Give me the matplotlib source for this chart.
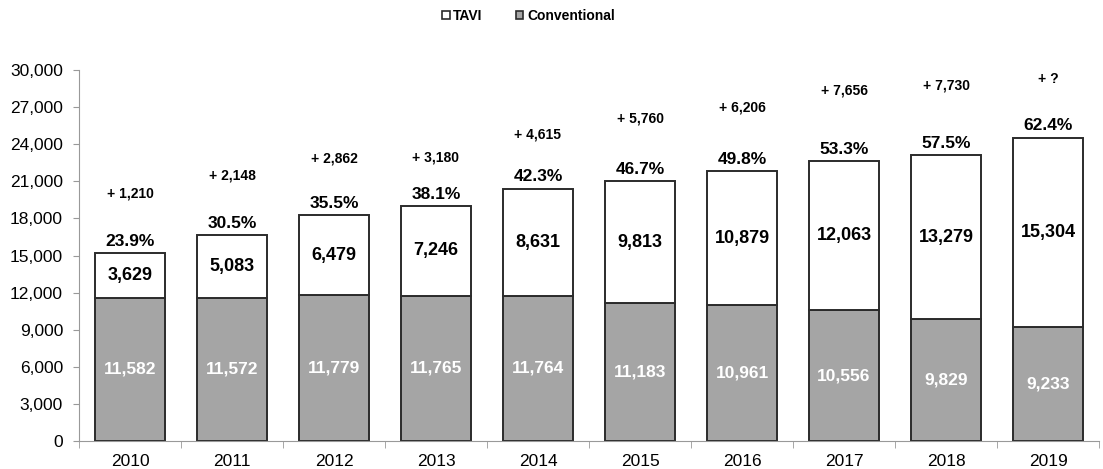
import matplotlib
matplotlib.use("Agg")
import matplotlib.pyplot as plt
import numpy as np
from matplotlib.patches import Patch

plt.rcParams['font.family'] = ['Liberation Sans', 'DejaVu Sans']

years = ['2010', '2011', '2012', '2013', '2014', '2015', '2016', '2017', '2018', '2019']
conventional = [11582, 11572, 11779, 11765, 11764, 11183, 10961, 10556, 9829, 9233]
tavi = [3629, 5083, 6479, 7246, 8631, 9813, 10879, 12063, 13279, 15304]
tavi_share = ['23.9%', '30.5%', '35.5%', '38.1%', '42.3%', '46.7%', '49.8%', '53.3%', '57.5%', '62.4%']
increase = ['+ 1,210', '+ 2,148', '+ 2,862', '+ 3,180', '+ 4,615', '+ 5,760', '+ 6,206', '+ 7,656', '+ 7,730', '+ ?']

# gap above each bar where the "+ n" label sits (layout only)
inc_gap = [4840, 4775, 4620, 3950, 4430, 5120, 5090, 5760, 5600, 4730]

x = np.arange(len(years))
conv = np.array(conventional)
tv = np.array(tavi)
total = conv + tv

fig = plt.figure(figsize=(11.03, 4.69), dpi=100)
ax = fig.add_axes([0.0716, 0.0597, 0.9248, 0.791])

w = 0.68
gray = '#a5a5a5'
ax.bar(x, conv, w, color=gray, edgecolor='#2b2b2b', linewidth=1.4, label='Conventional', zorder=2)
ax.bar(x, tv, w, bottom=conv, color='white', edgecolor='#2b2b2b', linewidth=1.4, label='TAVI', zorder=2)

for i in x:
    ax.text(i, conv[i] / 2, f'{conv[i]:,}', ha='center', va='center', color='white',
            fontsize=12.5, fontweight='bold')
    ax.text(i, conv[i] + tv[i] / 2, f'{tv[i]:,}', ha='center', va='center', color='black',
            fontsize=13, fontweight='bold')
    ax.text(i, total[i] + 350, tavi_share[i], ha='center', va='bottom', color='black',
            fontsize=12.5, fontweight='bold')
    ax.text(i, total[i] + inc_gap[i], increase[i], ha='center', va='center', color='black',
            fontsize=10, fontweight='bold', clip_on=False)

ax.set_xlim(-0.5, len(years) - 0.5)
ax.set_ylim(0, 30000)
ax.set_yticks(np.arange(0, 30001, 3000))
ax.set_yticklabels([f'{v:,}' for v in range(0, 30001, 3000)], fontsize=12.5)
ax.set_xticks(x)
ax.set_xticklabels(years, fontsize=12.5)
ax.set_xticks(np.arange(-0.5, len(years), 1), minor=True)
ax.tick_params(axis='x', which='major', length=0, pad=9)
ax.tick_params(axis='x', which='minor', length=5, color='#999999')
ax.tick_params(axis='y', length=4.5, color='#999999', pad=7)

for s in ['top', 'right']:
    ax.spines[s].set_visible(False)
for s in ['left', 'bottom']:
    ax.spines[s].set_color('#999999')

handles = [Patch(facecolor='white', edgecolor='#2b2b2b', linewidth=1.2, label='TAVI'),
           Patch(facecolor=gray, edgecolor='#2b2b2b', linewidth=1.2, label='Conventional')]
fig.legend(handles=handles, loc='center', bbox_to_anchor=(0.479, 0.966), ncol=2, frameon=False,
           prop={'weight': 'bold', 'size': 10}, handlelength=0.55, handleheight=0.55,
           handletextpad=0.25, columnspacing=2.4)

fig.savefig('out.png', dpi=100)
